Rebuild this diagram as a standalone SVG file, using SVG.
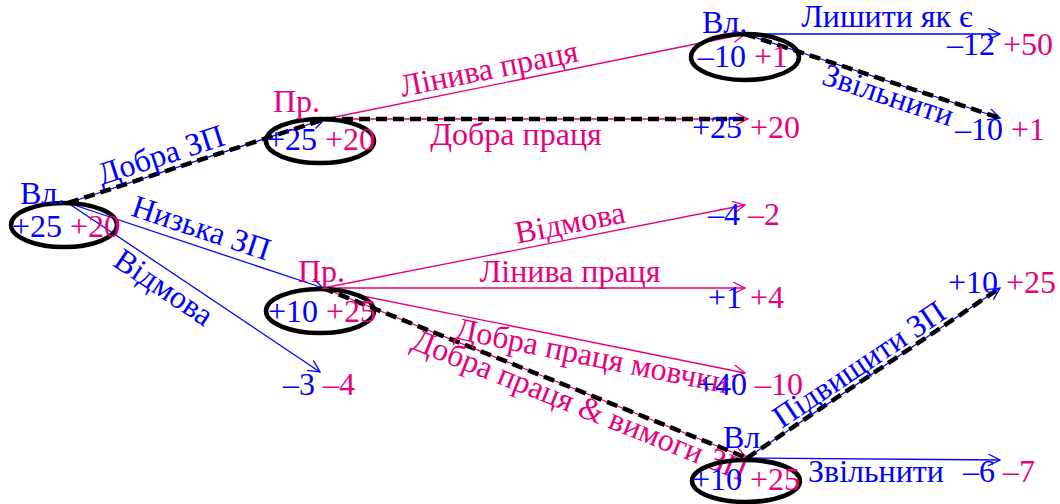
<svg xmlns="http://www.w3.org/2000/svg" width="1060" height="504" viewBox="0 0 1060 504">
<style>
text{font-family:"Liberation Serif","Times New Roman",serif;font-size:32px}
.b{fill:#0000ff}.p{fill:#e6007e}
.lb{stroke:#0000ff;stroke-width:1.3;fill:none}
.lp{stroke:#e6007e;stroke-width:1.3;fill:none}
.d{stroke:#000;stroke-width:4.5;stroke-dasharray:11 6;fill:none}
.e{fill:none;stroke:#000;stroke-width:4.5}
</style>
<defs>
<marker id="ab" markerUnits="userSpaceOnUse" markerWidth="14" markerHeight="14" refX="12" refY="6" orient="auto"><path d="M0,0 L12,6 L0,12" fill="none" stroke="#0000ff" stroke-width="1.3"/></marker>
<marker id="ap" markerUnits="userSpaceOnUse" markerWidth="14" markerHeight="14" refX="12" refY="6" orient="auto"><path d="M0,0 L12,6 L0,12" fill="none" stroke="#e6007e" stroke-width="1.3"/></marker>
</defs>
<g id="connectors">
<line class="lb" x1="68" y1="203" x2="325" y2="119" marker-end="url(#ab)"/>
<line class="lb" x1="68" y1="203" x2="323" y2="288" marker-end="url(#ab)"/>
<line class="lb" x1="68" y1="203" x2="320" y2="372" marker-end="url(#ab)"/>
<line class="lp" x1="325" y1="119" x2="745" y2="34" marker-end="url(#ap)"/>
<line class="lp" x1="325" y1="119" x2="748" y2="119" marker-end="url(#ap)"/>
<line class="lb" x1="745" y1="34" x2="1000" y2="34" marker-end="url(#ab)"/>
<line class="lb" x1="745" y1="34" x2="1000" y2="118" marker-end="url(#ab)"/>
<line class="lp" x1="323" y1="288" x2="745" y2="205" marker-end="url(#ap)"/>
<line class="lp" x1="323" y1="288" x2="745" y2="288" marker-end="url(#ap)"/>
<line class="lp" x1="323" y1="288" x2="745" y2="373" marker-end="url(#ap)"/>
<line class="lp" x1="323" y1="288" x2="747" y2="458" marker-end="url(#ap)"/>
<line class="lb" x1="747" y1="458" x2="1000" y2="288" marker-end="url(#ab)"/>
<line class="lb" x1="747" y1="458" x2="1000" y2="460" marker-end="url(#ab)"/>
<line class="d" x1="68" y1="203" x2="325" y2="119"/>
<line class="d" x1="325" y1="119" x2="748" y2="119"/>
<line class="d" x1="745" y1="34" x2="1000" y2="118"/>
<line class="d" x1="323" y1="288" x2="747" y2="458"/>
<line class="d" x1="747" y1="458" x2="1000" y2="288"/>
<text class="b" transform="translate(164,165) rotate(-18)" text-anchor="middle">Добра ЗП</text>
<text class="b" transform="translate(198,238) rotate(18.4)" text-anchor="middle">Низька ЗП</text>
<text class="b" transform="translate(158,296) rotate(33.8)" text-anchor="middle">Відмова</text>
<text class="p" transform="translate(491,79) rotate(-11.4)" text-anchor="middle">Лінива праця</text>
<text class="p" x="516" y="145" text-anchor="middle">Добра праця</text>
<text class="b" x="887" y="27" text-anchor="middle">Лишити як є</text>
<text class="b" transform="translate(885,105) rotate(18.2)" text-anchor="middle">Звільнити</text>
<text class="p" transform="translate(572,233) rotate(-11.1)" text-anchor="middle">Відмова</text>
<text class="p" x="570" y="282" text-anchor="middle">Лінива праця</text>
<text class="p" transform="translate(590,366) rotate(11.4)" text-anchor="middle">Добра праця мовчки</text>
<text class="p" transform="translate(576,415) rotate(21.85)" text-anchor="middle">Добра праця &amp; вимоги ЗП</text>
<text class="b" transform="translate(865,373) rotate(-33.9)" text-anchor="middle">Підвищити ЗП</text>
<text class="b" x="808" y="482">Звільнити</text>
</g>
<g id="root">
<ellipse class="e" cx="64" cy="225" rx="53" ry="22"/>
<text class="b" x="20" y="204">Вл.</text>
<text x="12" y="237"><tspan class="b">+25</tspan> <tspan class="p">+20</tspan></text>
</g>
<g id="pr-top">
<ellipse class="e" cx="320" cy="141" rx="54" ry="22"/>
<text class="p" x="273" y="112">Пр.</text>
<text x="267" y="150"><tspan class="b">+25</tspan> <tspan class="p">+20</tspan></text>
</g>
<g id="vl-top">
<ellipse class="e" cx="745" cy="57" rx="54" ry="23"/>
<text class="b" x="702" y="33">Вл.</text>
<text x="698" y="67"><tspan class="b">–10</tspan> <tspan class="p">+1</tspan></text>
</g>
<g id="pr-bottom">
<ellipse class="e" cx="320" cy="311" rx="54" ry="22"/>
<text class="p" x="298" y="282">Пр.</text>
<text x="268" y="322"><tspan class="b">+10</tspan> <tspan class="p">+25</tspan></text>
</g>
<g id="vl-bottom">
<ellipse class="e" cx="746" cy="481" rx="54" ry="21"/>
<text class="b" x="723" y="448">Вл</text>
<text x="692" y="490"><tspan class="b">+10</tspan> <tspan class="p">+25</tspan></text>
</g>
<g id="outcomes">
<text x="947" y="55"><tspan class="b">–12</tspan> <tspan class="p">+50</tspan></text>
<text x="955" y="140"><tspan class="b">–10</tspan> <tspan class="p">+1</tspan></text>
<text x="692" y="138"><tspan class="b">+25</tspan> <tspan class="p">+20</tspan></text>
<text x="283" y="395"><tspan class="b">–3</tspan> <tspan class="p">–4</tspan></text>
<text x="708" y="225"><tspan class="b">–4</tspan> <tspan class="p">–2</tspan></text>
<text x="708" y="308"><tspan class="b">+1</tspan> <tspan class="p">+4</tspan></text>
<text x="697" y="395"><tspan class="b">+40</tspan> <tspan class="p">–10</tspan></text>
<text x="948" y="293"><tspan class="b">+10</tspan> <tspan class="p">+25</tspan></text>
<text x="963" y="482"><tspan class="b">–6</tspan> <tspan class="p">–7</tspan></text>
</g>
</svg>
